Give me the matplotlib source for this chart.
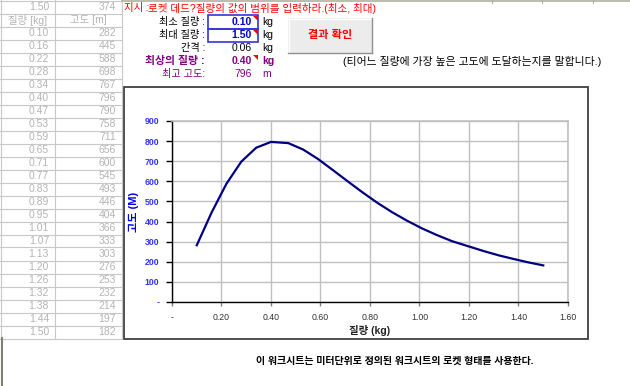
import matplotlib
matplotlib.use("Agg")
import matplotlib.pyplot as plt
import matplotlib.patches as mpatches
import matplotlib.lines as mlines
from matplotlib.ticker import FixedLocator, FixedFormatter

# data (read from the sheet)
mass = [0.10, 0.16, 0.22, 0.28, 0.34, 0.40, 0.47, 0.53, 0.59, 0.65, 0.71, 0.77,
        0.83, 0.89, 0.95, 1.01, 1.07, 1.13, 1.20, 1.26, 1.32, 1.38, 1.44, 1.50]
altitude = [282, 445, 588, 698, 767, 796, 790, 758, 711, 656, 600, 545,
            493, 446, 404, 366, 333, 303, 276, 253, 232, 214, 197, 182]
x_ticks = [0, 0.2, 0.4, 0.6, 0.8, 1.0, 1.2, 1.4, 1.6]
x_labels = ["-", "0.20", "0.40", "0.60", "0.80", "1.00", "1.20", "1.40", "1.60"]
y_ticks = [0, 100, 200, 300, 400, 500, 600, 700, 800, 900]
y_labels = ["-", "100", "200", "300", "400", "500", "600", "700", "800", "900"]

KR = ["Liberation Sans", "Noto Sans CJK KR"]
plt.rcParams['font.family'] = KR

W, H = 630, 386
fig = plt.figure(figsize=(W / 100, H / 100), dpi=100)
fig.patch.set_facecolor("white")


def fx(x):
    return x / W


def fy(y):
    return 1 - y / H


def txt(x, y, s, **kw):
    kw.setdefault("va", "center")
    kw.setdefault("fontsize", 7)
    fig.text(fx(x), fy(y), s, **kw)


def hline(x0, x1, y, c, lw=0.8):
    fig.add_artist(mlines.Line2D([fx(x0), fx(x1)], [fy(y), fy(y)], color=c, lw=lw))


def vline(x, y0, y1, c, lw=0.8):
    fig.add_artist(mlines.Line2D([fx(x), fx(x)], [fy(y0), fy(y1)], color=c, lw=lw))


def rect(x0, y0, x1, y1, **kw):
    fig.add_artist(mpatches.Rectangle((fx(x0), fy(y1)), fx(x1) - fx(x0), fy(y0) - fy(y1), **kw))


def corner(x, y, c="red"):
    fig.add_artist(mpatches.Polygon([(fx(x - 5), fy(y)), (fx(x), fy(y)), (fx(x), fy(y + 5))],
                                    closed=True, color=c, lw=0))


# left data table
grid_c = "#c8c8c8"
text_c = "#b4b4b4"
row_h = 13
rows = [("1.50", "374"), ("질량 [kg]", "고도 [m]")] + [("%.2f" % m, "%d" % a) for m, a in zip(mass, altitude)]
for i in range(len(rows) + 1):
    hline(0, 122, i * row_h + 0.5, grid_c)
for x in [0.5, 55, 122]:
    vline(x, 0, len(rows) * row_h + 0.5, grid_c)
for i, (a, b) in enumerate(rows):
    yc = i * row_h + 7
    if i == 1:
        txt(28, yc, a, color=text_c, ha="center", fontsize=7.5)
        txt(88, yc, b, color=text_c, ha="center", fontsize=7.5)
    else:
        txt(49, yc, a, color=text_c, ha="right", fontsize=7.5)
        txt(116, yc, b, color=text_c, ha="right", fontsize=7.5)
vline(1.5, 338, 386, "#808070", lw=1.5)
hline(122, 630, 0.8, "#b0b0a0", lw=1.2)
for x in [492, 542, 593]:
    vline(x, 0, 3, "#b0b0a0")

# input area
txt(124, 8, "지시 :", color="red", style="italic", fontsize=7.5)
txt(148, 8, "로켓 데드?질량의 값의 범위를 입력하라.(최소, 최대)", color="red", fontsize=7.6)

labels = ["최소 질량 :", "최대 질량 :", "간격 :"]
values = ["0.10", "1.50", "0.06"]
for i, (lab, val) in enumerate(zip(labels, values)):
    yc = 22 + i * 13
    txt(205, yc, lab, ha="right", color="black", fontsize=7.3)
    txt(252, yc, val, ha="right", color="#0000cc" if i < 2 else "black",
        fontweight="bold" if i < 2 else "normal", fontsize=7.5)
    txt(262, yc, "kg", color="black", fontsize=7.5)
rect(208, 15, 258, 29, fill=False, ec="#3333dd", lw=1.2)
rect(208, 29, 258, 42, fill=False, ec="#3333dd", lw=1.2)
corner(258, 16)
corner(258, 30)

purple = "#800080"
txt(205, 61, "최상의 질량 :", ha="right", color=purple, fontweight="bold", fontsize=7.8)
txt(252, 61, "0.40", ha="right", color=purple, fontweight="bold", fontsize=7.5)
txt(262, 61, "kg", color=purple, fontweight="bold", fontsize=7.5)
corner(258, 55)
txt(205, 74, "최고 고도:", ha="right", color=purple, fontsize=7.3)
txt(252, 74, "796", ha="right", color=purple, fontsize=7.5)
txt(262, 74, "m", color=purple, fontsize=7.5)

# button
rect(288, 18, 372, 53, fc="#ececec", ec="none")
hline(288, 372, 18.5, "white", lw=1)
vline(288.5, 18, 53, "white", lw=1)
hline(288, 372, 52.5, "#909090", lw=1)
vline(371.5, 18, 53, "#909090", lw=1)
txt(330, 35, "결과 확인", ha="center", color="red", fontweight="bold", fontsize=8)

txt(343, 61, "(티어느 질량에 가장 높은 고도에 도달하는지를 말합니다.)", color="black", fontsize=7.8)

# chart frame
rect(124, 87, 588, 339, fill=False, ec="#404040", lw=1.3)

ax = fig.add_axes([fx(172), fy(302), fx(568) - fx(172), fy(121) - fy(302)])
ax.plot(mass, altitude, color="#000080", lw=1.6)
ax.set_xlim(0, 1.6)
ax.set_ylim(0, 900)
ax.xaxis.set_major_locator(FixedLocator(x_ticks))
ax.xaxis.set_major_formatter(FixedFormatter(x_labels))
ax.yaxis.set_major_locator(FixedLocator(y_ticks))
ax.yaxis.set_major_formatter(FixedFormatter(y_labels))
ax.grid(True, color="#c0c0c0", lw=1)
ax.set_axisbelow(True)
for s in ["top", "right"]:
    ax.spines[s].set_color("#c0c0c0")
    ax.spines[s].set_linewidth(1.2)
for s in ["left", "bottom"]:
    ax.spines[s].set_color("black")
    ax.spines[s].set_linewidth(1)
ax.tick_params(axis="y", direction="out", length=4, width=1, colors="black",
               labelcolor="#3333ff", labelsize=6.3, pad=5)
ax.tick_params(axis="x", direction="out", length=3, width=1, colors="#808080",
               labelcolor="#333333", labelsize=6.3, pad=5)
for t in ax.get_yticklabels():
    t.set_fontweight("bold")
ax.set_xlabel("질량 (kg)", fontsize=7.5, fontweight="bold", color="#222222", labelpad=2)
ax.set_ylabel("고도 (M)", fontsize=8, fontweight="bold", color="#0000ee", labelpad=4)

txt(395, 361, "이 워크시트는 미터단위로 정의된 워크시트의 로켓 형태를 사용한다.",
    ha="center", color="black", fontweight="bold", fontsize=7.2)

fig.savefig("out.png", dpi=100)
